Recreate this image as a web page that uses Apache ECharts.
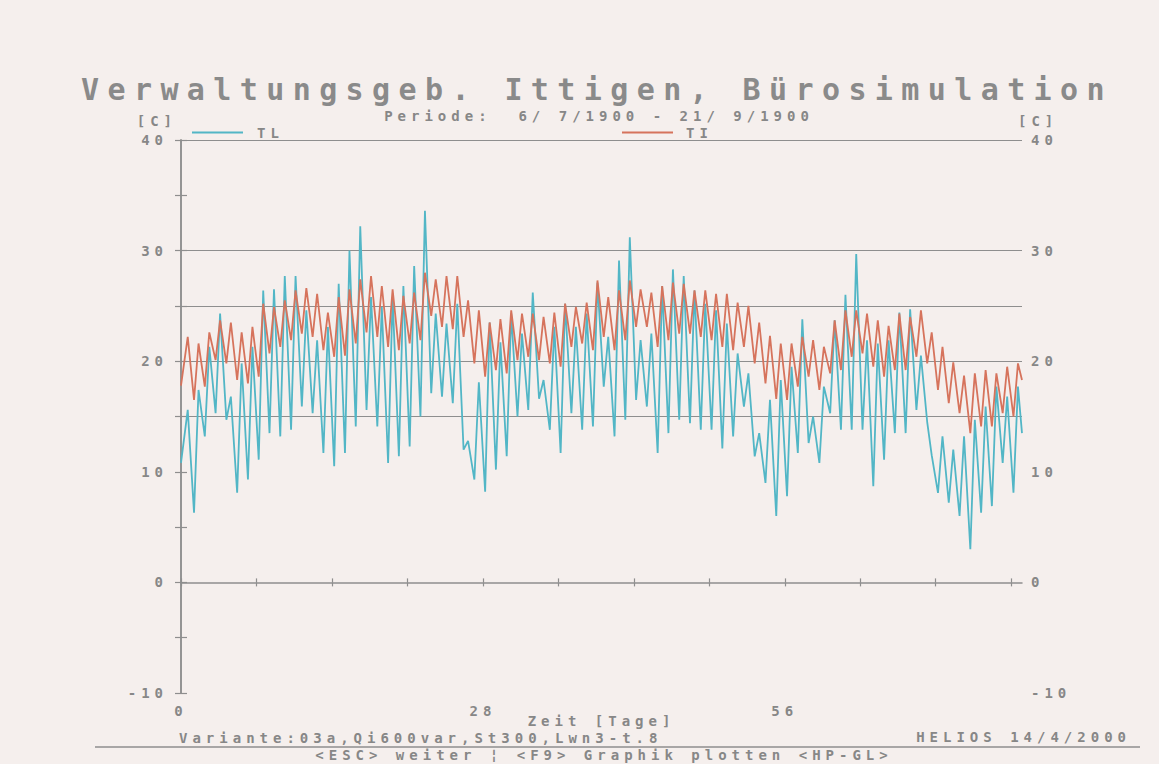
<!DOCTYPE html>
<html>
<head>
<meta charset="utf-8">
<script src="https://cdn.jsdelivr.net/npm/echarts@6/dist/echarts.min.js"></script>
<style>
html, body { margin: 0; padding: 0; background: #f5efed; }
#chart { width: 1159px; height: 764px; }
#chart svg text { letter-spacing: 5px; }
#chart svg text[style*="30px"] { letter-spacing: 8.4px; }
</style>
</head>
<body>
<div id="chart"></div>
<script>
// ---- Data ----
const titleText = 'Verwaltungsgeb. Ittigen, Bürosimulation';
const periodText = 'Periode:  6/ 7/1900 - 21/ 9/1900';
const dayCount = 78;               // 6/7 .. 21/9
const xTickDays = [0, 7, 14, 21, 28, 35, 42, 49, 56, 63, 70, 77];
const xLabelDays = [0, 28, 56];
const gridLevels = [15, 20, 25, 30, 40];

// TL (outdoor air), early-morning value and afternoon value of each day
const tlMorning = [
  10.8, 6.3, 13.2, 15.3, 14.7, 8.1, 9.3, 11.1, 13.5, 13.2, 13.8, 15.9, 15.3,
  11.7, 10.5, 11.7, 14.1, 15.6, 14.1, 10.8, 11.4, 12.3, 15.0, 17.1, 16.8, 16.2,
  12.0, 9.3, 8.2, 10.2, 11.4, 15.0, 15.6, 16.6, 13.8, 11.7, 15.3, 13.8, 14.1,
  17.7, 13.2, 14.7, 16.5, 15.9, 11.7, 13.5, 14.7, 14.4, 13.8, 13.8, 12.1, 13.2,
  15.9, 11.4, 9.0, 6.0, 7.8, 11.7, 12.6, 10.8, 15.3, 13.8, 13.8, 13.8, 8.7,
  11.1, 13.5, 13.5, 15.6, 14.5, 8.1, 7.2, 6.0, 3.0, 6.3, 6.9, 10.8, 8.1
];
const tlAfternoon = [
  15.6, 17.4, 21.3, 24.3, 16.8, 19.8, 21.3, 26.4, 26.5, 27.7, 27.7, 24.6, 21.9,
  23.1, 27.0, 30.0, 32.2, 25.8, 24.9, 25.8, 26.8, 28.6, 33.6, 24.3, 23.4, 25.2,
  12.8, 18.1, 23.5, 21.7, 24.3, 22.5, 26.2, 18.3, 23.1, 25.2, 23.1, 24.3, 27.1,
  22.2, 29.1, 31.2, 21.9, 22.5, 26.8, 28.3, 27.7, 26.4, 25.2, 24.6, 23.4, 20.7,
  18.9, 13.5, 16.5, 18.3, 19.5, 23.8, 15.0, 17.7, 23.7, 26.0, 29.7, 21.9, 21.6,
  21.9, 24.4, 24.7, 20.5, 11.5, 13.2, 12.0, 13.2, 14.7, 15.9, 17.7, 16.8, 17.7
];
const tlEnd = 13.5;

// TI (indoor), early-morning value and afternoon value of each day
const tiMorning = [
  17.8, 16.5, 17.7, 20.1, 19.8, 18.3, 18.0, 18.6, 20.7, 21.3, 21.9, 22.5, 22.2,
  21.0, 20.4, 20.5, 21.6, 22.6, 22.2, 21.3, 21.0, 21.6, 21.9, 24.1, 23.1, 22.9,
  22.2, 19.8, 18.6, 19.2, 18.9, 20.1, 20.4, 20.1, 19.8, 19.5, 21.3, 21.6, 21.0,
  22.2, 21.0, 21.9, 23.1, 23.1, 21.3, 21.9, 22.5, 22.5, 22.2, 21.9, 21.3, 21.0,
  21.3, 19.8, 18.0, 16.6, 16.5, 17.7, 18.6, 17.4, 18.9, 19.2, 20.4, 20.7, 19.5,
  18.6, 19.2, 19.2, 20.4, 19.8, 17.4, 16.2, 15.3, 13.5, 14.1, 14.1, 15.3, 15.0
];
const tiAfternoon = [
  22.2, 21.6, 22.6, 23.7, 23.5, 22.6, 23.1, 25.2, 24.9, 25.5, 26.4, 26.6, 26.1,
  24.4, 25.8, 26.5, 27.4, 27.7, 26.8, 26.5, 25.9, 26.2, 28.0, 27.4, 27.7, 27.7,
  25.5, 24.6, 23.5, 23.8, 24.6, 24.3, 24.3, 24.0, 24.4, 25.2, 24.9, 25.3, 27.3,
  25.8, 26.4, 27.3, 26.5, 26.2, 26.8, 27.1, 27.0, 26.4, 26.4, 26.1, 26.1, 25.3,
  25.0, 23.5, 22.3, 21.6, 21.6, 22.2, 21.9, 21.3, 23.7, 24.6, 24.6, 24.3, 23.7,
  23.2, 24.3, 24.0, 24.6, 22.6, 21.3, 19.9, 18.7, 18.9, 19.2, 18.9, 19.5, 19.8
];
const tiEnd = 18.3;

const morningHour = 5;
const afternoonHour = 15;

// ---- Build the series (day + hour fraction) ----
function buildSeries(morning, afternoon, endValue) {
  const pts = [];
  for (let d = 0; d < morning.length; d++) {
    pts.push([d === 0 ? 0 : d + morningHour / 24, morning[d]]);
    pts.push([d + afternoonHour / 24, afternoon[d]]);
  }
  pts.push([dayCount, endValue]);
  return pts;
}

const FONT = "'DejaVu Sans Mono', monospace";
const SMALL_FONT = "bold 14px 'DejaVu Sans Mono', monospace";
const GREY = '#878787';
const AXIS = '#8e8e8e';
const TL_COLOR = '#52b6c6';
const TI_COLOR = '#d6735c';

const small = { fontFamily: FONT, fontSize: 14, fontWeight: 'bold', color: GREY, lineHeight: 14 };

const chart = echarts.init(document.getElementById('chart'), null, { renderer: 'svg' });

const yLabelFmt = v => (v % 10 === 0 ? String(v) : '');

const splitColors = [];
for (let v = -10; v <= 40; v += 5) splitColors.push(gridLevels.indexOf(v) >= 0 ? AXIS : 'rgba(0,0,0,0)');

function gText(text, x, y, align) {
  return { type: 'text', x: x, y: y,
    style: { text: text, font: SMALL_FONT, fill: GREY, lineHeight: 14,
             align: align, textAlign: align, verticalAlign: 'middle', textVerticalAlign: 'middle' } };
}

chart.setOption({
  backgroundColor: '#f5efed',
  animation: false,
  title: [
    { text: titleText, left: 592, top: 69.5, textAlign: 'center',
      textStyle: { fontFamily: FONT, fontSize: 30, fontWeight: 'bold', color: '#8a8a8a', lineHeight: 30 } },
    { text: periodText, left: 594, top: 103.5, textAlign: 'center',
      textStyle: small }
  ],
  legend: [
    { data: ['TL'], left: 187, top: 120.5, icon: 'rect', itemWidth: 51, itemHeight: 2,
      textStyle: Object.assign({}, small, { padding: [0, 0, 0, 9] }) },
    { data: ['TI'], left: 617, top: 120.5, icon: 'rect', itemWidth: 51, itemHeight: 2,
      textStyle: Object.assign({}, small, { padding: [0, 0, 0, 8] }) }
  ],
  grid: { left: 181, right: 137, top: 140, bottom: 71 },
  xAxis: [
    { type: 'value', min: 0, max: dayCount, position: 'bottom',
      name: 'Zeit [Tage]', nameLocation: 'middle', nameGap: 21, nameMoveOverlap: false,
      nameTextStyle: small,
      axisLine: { show: true, lineStyle: { color: AXIS, width: 1.5 } },
      axisTick: { show: true, length: 4, customValues: xTickDays, lineStyle: { color: AXIS, width: 1.2 } },
      axisLabel: Object.assign({}, small, { margin: 11, customValues: xLabelDays,
        formatter: v => String(v) }),
      splitLine: { show: false } },
    { type: 'value', min: 0, max: dayCount, position: 'bottom',
      axisLine: { show: false },
      axisTick: { show: true, inside: true, length: 4, customValues: xTickDays, lineStyle: { color: AXIS, width: 1.2 } },
      axisLabel: { show: false }, splitLine: { show: false } }
  ],
  yAxis: [
    { type: 'value', min: -10, max: 40, interval: 5, position: 'left',
      axisLine: { show: true, lineStyle: { color: AXIS, width: 1.5 } },
      axisTick: { show: true, length: 6, lineStyle: { color: AXIS, width: 1.2 } },
      axisLabel: Object.assign({}, small, { margin: 13, formatter: yLabelFmt }),
      splitLine: { show: true, lineStyle: { color: splitColors, width: 1.2 } } },
    { type: 'value', min: -10, max: 40, interval: 5, position: 'right',
      axisLine: { show: true, lineStyle: { color: AXIS, width: 1.5 } },
      axisTick: { show: true, length: 6, lineStyle: { color: AXIS, width: 1.2 } },
      axisLabel: Object.assign({}, small, { margin: 9, formatter: yLabelFmt }),
      splitLine: { show: false } }
  ],
  series: [
    { name: 'TL', type: 'line', xAxisIndex: 0, yAxisIndex: 0,
      data: buildSeries(tlMorning, tlAfternoon, tlEnd),
      showSymbol: false, symbol: 'none', color: TL_COLOR,
      lineStyle: { color: TL_COLOR, width: 1.8 } },
    { name: 'TI', type: 'line', xAxisIndex: 0, yAxisIndex: 0,
      data: buildSeries(tiMorning, tiAfternoon, tiEnd),
      showSymbol: false, symbol: 'none', color: TI_COLOR,
      lineStyle: { color: TI_COLOR, width: 1.8 } }
  ],
  graphic: [
    gText('[C]', 177, 121, 'right'),
    gText('[C]', 1018, 121, 'left'),
    gText('Variante:03a,Qi600var,St300,Lwn3-t.8', 179, 738, 'left'),
    gText('HELIOS 14/4/2000', 1131, 737, 'right'),
    { type: 'line', shape: { x1: 95, y1: 747, x2: 1140, y2: 747 }, style: { stroke: AXIS, lineWidth: 1.5 } },
    gText('<ESC> weiter ¦ <F9> Graphik plotten <HP-GL>', 604, 755, 'center')
  ]
});
</script>
</body>
</html>
